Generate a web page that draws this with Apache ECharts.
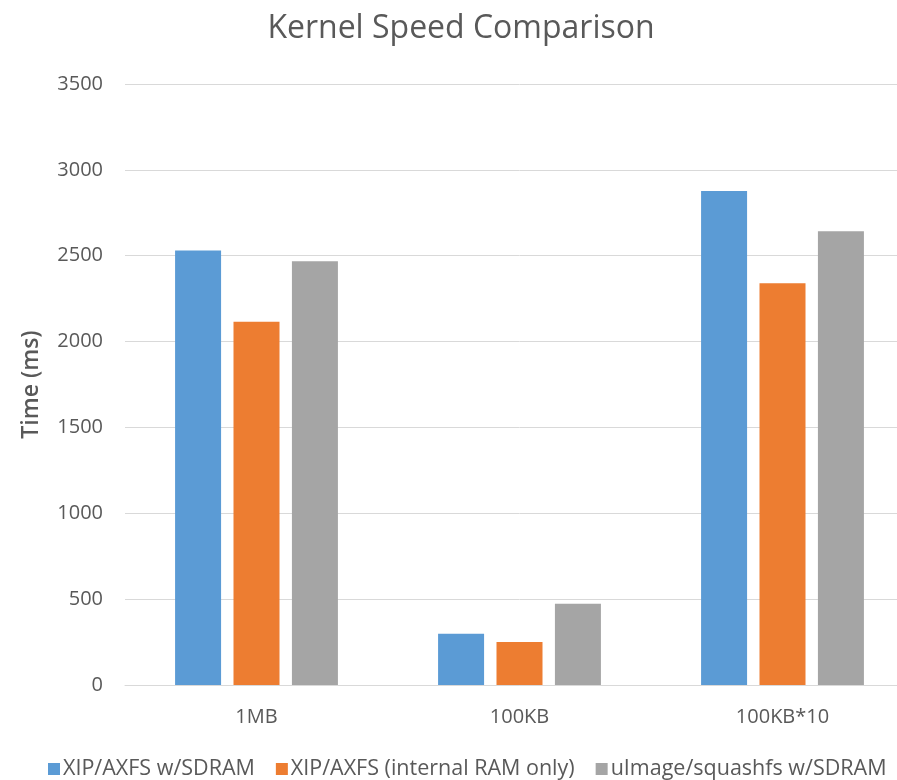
<!DOCTYPE html>
<html>
<head>
<meta charset="utf-8">
<script src="https://cdn.jsdelivr.net/npm/echarts@6/dist/echarts.min.js"></script>
<style>
html,body{margin:0;padding:0;background:#fff;overflow:hidden;width:897px;height:780px;}
#c{width:922px;height:780px;}
</style>
</head>
<body>
<div id="c"></div>
<script>
const categories = ['1MB', '100KB', '100KB*10'];
const seriesNames = ['XIP/AXFS w/SDRAM', 'XIP/AXFS (internal RAM only)', 'uImage/squashfs w/SDRAM'];
const xipSdram = [2530, 298, 2877];
const xipInternal = [2116, 250, 2340];
const uimageSquash = [2468, 473, 2643];
const colors = ['#5B9BD5', '#ED7D31', '#A5A5A5'];

const chart = echarts.init(document.getElementById('c'), null, {renderer: 'canvas'});
const font = '"Open Sans", sans-serif';
const mk = (name, data, color) => ({
  name, type: 'bar', data,
  itemStyle: {color},
  barWidth: 46, barGap: '27%'
});
chart.setOption({
  animation: false,
  title: {
    text: 'Kernel Speed Comparison', left: 'center', top: 8,
    textStyle: {fontFamily: font, fontSize: 32, fontWeight: 'normal', color: '#595959'}
  },
  legend: {
    bottom: -5, left: 43, itemWidth: 12, itemHeight: 12, itemGap: 21,
    icon: 'rect',
    textStyle: {fontFamily: font, fontSize: 21.5, color: '#595959', padding: [0,0,0,-2]},
    data: seriesNames
  },
  grid: {left: 125, right: 8, top: 84, height: 601, containLabel: false},
  xAxis: {
    type: 'category', data: categories,
    axisLine: {lineStyle: {color: '#D9D9D9', width: 1}},
    axisTick: {show: false},
    axisLabel: {fontFamily: font, fontSize: 20, color: '#595959', margin: 22}
  },
  yAxis: {
    type: 'value', min: 0, max: 3500, interval: 500,
    name: 'Time (ms)', nameLocation: 'middle', nameGap: 82, nameRotate: 90,
    nameTextStyle: {fontFamily: font, fontSize: 23, color: '#595959', fontWeight: 600},
    axisLine: {show: false}, axisTick: {show: false},
    splitLine: {lineStyle: {color: '#D9D9D9', width: 1}},
    axisLabel: {fontFamily: font, fontSize: 20, color: '#595959', margin: 22, formatter: v => String(v)}
  },
  series: [
    mk(seriesNames[0], xipSdram, colors[0]),
    mk(seriesNames[1], xipInternal, colors[1]),
    mk(seriesNames[2], uimageSquash, colors[2])
  ]
});
</script>
</body>
</html>
